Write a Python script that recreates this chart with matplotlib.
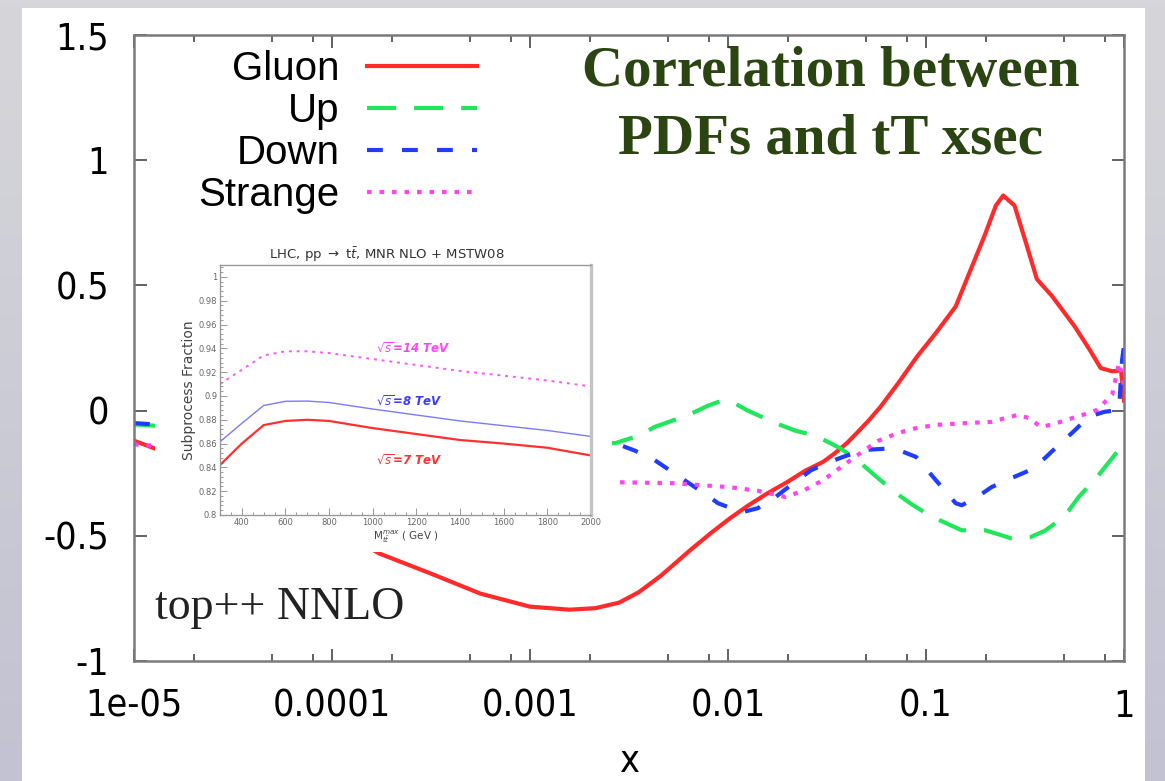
import numpy as np
import matplotlib
matplotlib.use('Agg')
import matplotlib.pyplot as plt
from matplotlib.colors import LinearSegmentedColormap
from matplotlib.patches import Rectangle
from matplotlib.font_manager import FontProperties
from matplotlib.ticker import LogLocator, MultipleLocator, NullFormatter

W, H = 1165, 781

# main plot: correlation vs x, x given as log10(x)
gluon_logx = [-5.0, -4.9, -4.5, -4.1, -3.76, -3.5, -3.25, -3.0, -2.8, -2.67, -2.55, -2.45,
              -2.34, -2.26, -2.18, -2.08, -1.99, -1.9, -1.8, -1.7, -1.61, -1.52, -1.46, -1.4,
              -1.35, -1.29, -1.23, -1.14, -1.045, -0.95, -0.85, -0.78, -0.704, -0.647, -0.61,
              -0.553, -0.496, -0.44, -0.364, -0.25, -0.174, -0.118, -0.06, -0.015, 0.0]
gluon_corr = [-0.12, -0.15, -0.27, -0.42, -0.571, -0.651, -0.731, -0.783, -0.795, -0.789, -0.767, -0.725,
              -0.66, -0.605, -0.55, -0.485, -0.43, -0.38, -0.33, -0.285, -0.24, -0.205, -0.17, -0.13,
              -0.09, -0.04, 0.015, 0.11, 0.216, 0.31, 0.416, 0.552, 0.699, 0.819, 0.859,
              0.819, 0.672, 0.525, 0.458, 0.337, 0.244, 0.17, 0.157, 0.16, 0.04]

up_logx = [-5.0, -4.9, -4.0, -3.0, -2.57, -2.45, -2.37, -2.28, -2.18, -2.1, -2.03, -1.98,
           -1.9, -1.76, -1.66, -1.56, -1.47, -1.42, -1.33, -1.23, -1.15, -1.08, -1.0, -0.93,
           -0.82, -0.7, -0.63, -0.57, -0.475, -0.4, -0.34, -0.28, -0.23, -0.136, -0.06, 0.0]
up_corr = [-0.055, -0.06, -0.08, -0.12, -0.13, -0.1, -0.065, -0.04, -0.01, 0.02, 0.04, 0.035,
           0.0, -0.05, -0.08, -0.1, -0.135, -0.157, -0.21, -0.278, -0.33, -0.37, -0.41, -0.438,
           -0.478, -0.478, -0.495, -0.51, -0.506, -0.48, -0.446, -0.4, -0.346, -0.265, -0.19, -0.13]

down_logx = [-5.0, -4.9, -4.0, -3.0, -2.57, -2.47, -2.37, -2.22, -2.12, -2.05, -1.93, -1.85,
             -1.76, -1.67, -1.58, -1.5, -1.42, -1.31, -1.2, -1.14, -1.05, -0.95, -0.85, -0.82,
             -0.75, -0.67, -0.57, -0.475, -0.4, -0.34, -0.25, -0.18, -0.1, -0.025, -0.01, 0.0]
down_corr = [-0.05, -0.055, -0.08, -0.11, -0.13, -0.16, -0.198, -0.278, -0.33, -0.37, -0.406, -0.39,
             -0.345, -0.29, -0.238, -0.21, -0.185, -0.157, -0.152, -0.157, -0.185, -0.278, -0.37, -0.378,
             -0.35, -0.306, -0.27, -0.238, -0.19, -0.145, -0.08, -0.025, -0.005, 0.003, 0.2, 0.26]

strange_logx = [-5.0, -4.9, -4.0, -3.0, -2.57, -2.27, -1.99, -1.85, -1.71, -1.62, -1.52, -1.42,
                -1.33, -1.24, -1.14, -1.05, -0.95, -0.8, -0.67, -0.6, -0.535, -0.48, -0.42, -0.36,
                -0.29, -0.2, -0.136, -0.06, -0.025, 0.0]
strange_corr = [-0.135, -0.14, -0.2, -0.27, -0.286, -0.29, -0.306, -0.32, -0.345, -0.32, -0.278, -0.22,
                -0.169, -0.12, -0.089, -0.07, -0.057, -0.05, -0.045, -0.03, -0.017, -0.03, -0.065, -0.055,
                -0.037, -0.015, 0.003, 0.063, 0.19, 0.1]

x_ticks = [1e-5, 1e-4, 1e-3, 1e-2, 1e-1, 1]
x_ticklabels = ['1e-05', '0.0001', '0.001', '0.01', '0.1', '1']
y_ticks = [-1, -0.5, 0, 0.5, 1, 1.5]
y_ticklabels = ['-1', '-0.5', '0', '0.5', '1', '1.5']

# inset: subprocess fraction vs M_tt max
mtt = [300, 400, 500, 600, 700, 800, 1000, 1200, 1400, 1600, 1800, 2000]
frac_7tev = [0.842, 0.86, 0.8755, 0.879, 0.88, 0.879, 0.873, 0.868, 0.863, 0.86, 0.8565, 0.85]
frac_8tev = [0.8615, 0.877, 0.892, 0.8955, 0.8957, 0.8945, 0.889, 0.884, 0.879, 0.875, 0.871, 0.866]
frac_14tev = [0.91, 0.922, 0.934, 0.9375, 0.9375, 0.936, 0.931, 0.926, 0.921, 0.917, 0.913, 0.908]
inset_yticks = [0.8, 0.82, 0.84, 0.86, 0.88, 0.9, 0.92, 0.94, 0.96, 0.98, 1.0]
inset_yticklabels = ['0.8', '0.82', '0.84', '0.86', '0.88', '0.9', '0.92', '0.94', '0.96', '0.98', '1']
inset_xticks = [400, 600, 800, 1000, 1200, 1400, 1600, 1800, 2000]

RED = '#ff2a2a'
GREEN = '#1fe65a'
BLUE = '#1f3cff'
MAGENTA = '#ff44f0'

tickfont = FontProperties(family='DejaVu Sans', stretch='condensed', size=27)
legfont = FontProperties(family='Liberation Sans', size=29)

fig = plt.figure(figsize=(W / 100, H / 100), dpi=100)

# slide background: grey gradient + white panel
bg = fig.add_axes([0, 0, 1, 1], zorder=-10)
bg.axis('off')
cmap = LinearSegmentedColormap.from_list('bg', ['#d6d6da', '#c2c2d2'])
bg.imshow(np.linspace(0, 1, 256).reshape(-1, 1), aspect='auto', cmap=cmap, extent=(0, 1, 0, 1))
bg.add_patch(Rectangle((22 / W, 0), (1145 - 22) / W, (H - 8) / H, transform=bg.transAxes,
                       facecolor='white', edgecolor='none'))
bg.set_xlim(0, 1)
bg.set_ylim(0, 1)

ax = fig.add_axes([134 / W, 120 / H, 990 / W, 626 / H], zorder=1)
ax.set_facecolor('white')

lw = 3.0
ax.plot(10 ** np.array(gluon_logx), gluon_corr, color=RED, lw=lw, label='Gluon')
ax.plot(10 ** np.array(up_logx), up_corr, color=GREEN, lw=lw, dashes=(7, 4.3), label='Up')
ax.plot(10 ** np.array(down_logx), down_corr, color=BLUE, lw=lw, dashes=(3.8, 4.6), label='Down')
ax.plot(10 ** np.array(strange_logx), strange_corr, color=MAGENTA, lw=lw, dashes=(1.1, 1.9),
        label='Strange')

ax.set_xscale('log')
ax.set_xlim(1e-5, 1)
ax.set_ylim(-1, 1.5)
ax.set_xticks(x_ticks)
ax.set_xticklabels(x_ticklabels, fontproperties=tickfont)
ax.xaxis.set_minor_locator(LogLocator(base=10, subs=(2, 5, 8)))
ax.xaxis.set_minor_formatter(NullFormatter())
ax.set_yticks(y_ticks)
ax.set_yticklabels(y_ticklabels, fontproperties=tickfont)
ax.tick_params(which='both', direction='in', top=True, right=True, color='#555555', width=1.3)
ax.tick_params(which='major', length=9)
ax.tick_params(which='minor', length=5)
ax.tick_params(axis='y', pad=18)
ax.tick_params(axis='x', pad=20)
for s in ax.spines.values():
    s.set_color('#7a7a7a')
    s.set_linewidth(1.8)
ax.set_xlabel('x', fontproperties=tickfont, labelpad=14)

leg = ax.legend(loc='upper right', bbox_to_anchor=(477 / W, 1 - 50 / H), bbox_transform=fig.transFigure,
                frameon=False, markerfirst=False, handlelength=2.73, handletextpad=0.68,
                labelspacing=0.1, borderpad=0, borderaxespad=0, prop=legfont)

fig.text(831 / W, 1 - 86 / H, 'Correlation between', ha='center', va='baseline',
         family='Liberation Serif', fontweight='bold', fontsize=41, color='#2b4512')
fig.text(831 / W, 1 - 153 / H, 'PDFs and tT xsec', ha='center', va='baseline',
         family='Liberation Serif', fontweight='bold', fontsize=41, color='#2b4512')
fig.text(155 / W, 1 - 619 / H, 'top++ NNLO', ha='left', va='baseline',
         family='Liberation Serif', fontsize=33, color='#222222')

# pasted inset picture: white card covering the main curves
fig.add_artist(Rectangle((155 / W, 1 - 552 / H), (612 - 155) / W, (552 - 240) / H,
                         transform=fig.transFigure, facecolor='white', edgecolor='none', zorder=2))
ins = fig.add_axes([220 / W, 1 - 515 / H, 371 / W, 250 / H], zorder=3)
ins.plot(mtt, frac_14tev, color='#ff55ff', lw=1.4, ls=(0, (1.5, 2.5)))
ins.plot(mtt, frac_8tev, color='#7a7aff', lw=1.0)
ins.plot(mtt, frac_7tev, color='#ff3030', lw=1.6)
ins.text(1015, 0.94, r'$\sqrt{s}$=14 TeV', color='#ff44ff', fontsize=8.5, style='italic',
         fontweight='bold', va='center')
ins.text(1015, 0.895, r'$\sqrt{s}$=8 TeV', color='#3c3cff', fontsize=8.5, style='italic',
         fontweight='bold', va='center')
ins.text(1015, 0.846, r'$\sqrt{s}$=7 TeV', color='#ff3030', fontsize=8.5, style='italic',
         fontweight='bold', va='center')
ins.set_xlim(300, 2000)
ins.set_ylim(0.8, 1.01)
ins.set_yticks(inset_yticks)
ins.set_yticklabels(inset_yticklabels, fontsize=6, color='#666666')
ins.set_xticks(inset_xticks)
ins.set_xticklabels([str(v) for v in inset_xticks], fontsize=6, color='#666666')
ins.yaxis.set_minor_locator(MultipleLocator(0.004))
ins.xaxis.set_minor_locator(MultipleLocator(50))
ins.tick_params(which='both', direction='in', color='#888888', width=0.6, pad=2)
ins.tick_params(which='major', length=5)
ins.tick_params(which='minor', length=2.5)
for s in ins.spines.values():
    s.set_color('#999999')
    s.set_linewidth(1.0)
ins.spines['right'].set_color('#c4c4c4')
ins.spines['right'].set_linewidth(2.4)
ins.set_ylabel('Subprocess Fraction', fontsize=10, color='#444444', labelpad=2)
ins.set_xlabel(r'M$_{t\bar{t}}^{max}$ ( GeV )', fontsize=7.5, color='#444444', labelpad=1)
fig.text(387 / W, 1 - 255 / H, r'LHC, pp $\rightarrow$ t$\bar{t}$, MNR NLO + MSTW08', ha='center',
         va='center', fontsize=9.5, color='#333333', zorder=4)

fig.savefig('out.png', dpi=100)
